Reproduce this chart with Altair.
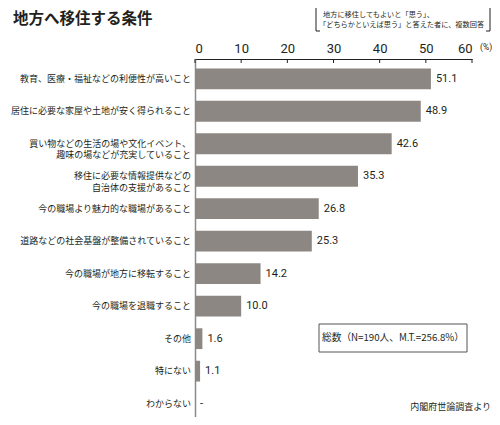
import altair as alt
import pandas as pd

categories = [
    "教育、医療・福祉などの利便性が高いこと",
    "居住に必要な家屋や土地が安く得られること",
    "買い物などの生活の場や文化イベント、\n趣味の場などが充実していること",
    "移住に必要な情報提供などの\n自治体の支援があること",
    "今の職場より魅力的な職場があること",
    "道路などの社会基盤が整備されていること",
    "今の職場が地方に移転すること",
    "今の職場を退職すること",
    "その他",
    "特にない",
    "わからない",
]
values = [51.1, 48.9, 42.6, 35.3, 26.8, 25.3, 14.2, 10.0, 1.6, 1.1, 0.0]
value_labels = ["51.1", "48.9", "42.6", "35.3", "26.8", "25.3", "14.2", "10.0", "1.6", "1.1", "-"]
tick_values = [0, 10, 20, 30, 40, 50, 60]

JP = "Noto Sans CJK JP"
NUM = "Liberation Sans Narrow, Roboto, sans-serif"

df = pd.DataFrame({"cat": categories, "val": values, "lab": value_labels})
ticks_df = pd.DataFrame({"t": tick_values})

xscale = alt.Scale(domain=[0, 60], nice=False)
yscale = alt.Scale(domain=categories, paddingInner=0.36, paddingOuter=0.19, align=0.76)

bars = alt.Chart(df).mark_bar(color="#8c8782").encode(
    x=alt.X("val:Q", scale=xscale, axis=alt.Axis(
        orient="top", values=tick_values, ticks=False, grid=False, title=None,
        domainColor="#231f20", domainWidth=1, labelFont=NUM, labelFontSize=13,
        labelColor="#231f20", labelPadding=4)),
    y=alt.Y("cat:N", scale=yscale, sort=categories, axis=alt.Axis(
        title=None, ticks=False, labels=False, domainColor="#8a8a8a", domainWidth=1.5)),
)

cat_text = alt.Chart(df).mark_text(
    align="right", baseline="middle", font=JP, fontSize=9, color="#231f20",
    lineBreak="\n", lineHeight=11.5).encode(
    x=alt.value(-4),
    y=alt.Y("cat:N", scale=yscale, sort=categories),
    text="cat:N",
)

text = alt.Chart(df).mark_text(align="left", baseline="middle", dx=5,
                               font=NUM, fontSize=11, color="#231f20").encode(
    x=alt.X("val:Q", scale=xscale),
    y=alt.Y("cat:N", scale=yscale, sort=categories),
    text="lab:N",
)

tick_marks = alt.Chart(ticks_df).mark_rule(color="#231f20", strokeWidth=1).encode(
    x=alt.X("t:Q", scale=xscale),
    y=alt.value(0),
    y2=alt.value(4),
)

def label(txt, x, y, size, align="left", weight="normal", font=JP, color="#231f20"):
    return alt.Chart(pd.DataFrame({"t": [txt]})).mark_text(
        align=align, baseline="middle", fontSize=size, fontWeight=weight,
        font=font, color=color).encode(x=alt.value(x), y=alt.value(y), text="t:N")

def rule(x, x2, y, y2, color="#231f20", w=1):
    return alt.Chart(pd.DataFrame({"a": [0]})).mark_rule(color=color, strokeWidth=w).encode(
        x=alt.value(x), x2=alt.value(x2), y=alt.value(y), y2=alt.value(y2))

title = label("地方へ移住する条件", -182, -40, 15.5, weight="bold")
pct = label("(%)", 285, -12, 8.5, font=NUM)
note1 = label("地方に移住してもよいと「思う」、", 128, -44.5, 7.2)
note2 = label("「どちらかといえば思う」と答えた者に、複数回答", 124, -34, 7.2)
brackets = (
    rule(121, 121, -52, -28) + rule(121, 125, -52, -52) + rule(121, 125, -28, -28)
    + rule(295, 295, -52, -28) + rule(291, 295, -52, -52) + rule(291, 295, -28, -28)
)

box = alt.Chart(pd.DataFrame({"a": [0]})).mark_rect(
    fill="white", stroke="#555555", strokeWidth=1).encode(
    x=alt.value(124), x2=alt.value(272), y=alt.value(265), y2=alt.value(293))
box_text = label("総数（N=190人、M.T.=256.8%）", 198, 279, 9.7, align="center")
source = label("内閣府世論調査より", 296, 348, 9, align="right")

chart = alt.layer(
    bars, cat_text, text, tick_marks, title, pct, note1, note2, brackets, box, box_text, source
).properties(
    width=277, height=358,
    autosize=alt.AutoSizeParams(type="none"),
    padding={"left": 187, "top": 51, "right": 20, "bottom": 0},
    background="white",
).configure_view(stroke=None)

chart.save("out.html", embed_options={"renderer": "svg", "actions": False})
